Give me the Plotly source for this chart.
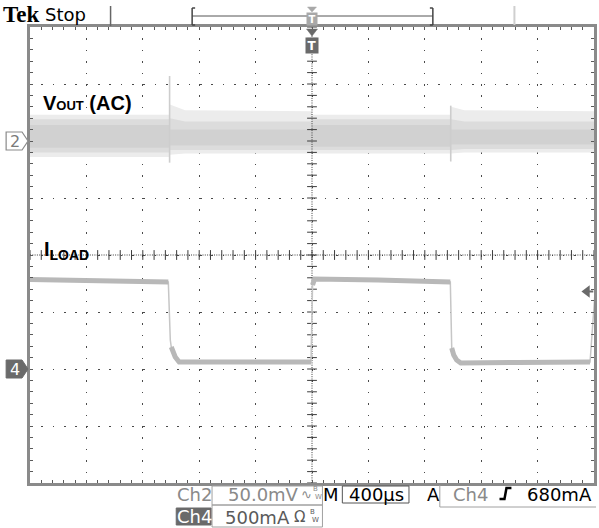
import numpy as np
import plotly.graph_objects as go

# ---- screen geometry (pixels) ----
W, H = 599, 528
L, R, T, B = 30, 597, 27, 483          # graticule edges

# ---- scope settings ----
CH2_MV_DIV = 50.0                        # Ch2 volts/div (mV)
CH4_MA_DIV = 500.0                       # Ch4 amps/div (mA)
TIME_DIV_US = 400.0                      # M 400 µs
TRIG_LEVEL_MA = 680                      # A Ch4 680 mA
CH2_POS_DIV = 2.0                        # Ch2 ground, divisions above centre
CH4_POS_DIV = -2.0                       # Ch4 ground, divisions below centre

# ---- ILOAD waveform (time µs, current mA) ----
load_t = [-2000, -1506, -1019, -1005, -998, -970, -942, -589, -95, -7, 4, 18,
          469, 970, 981, 991, 1005, 1026, 1055, 1457, 1958, 1972, 2014]
load_ma = [785, 776, 763, 254, 193, 105, 61, 57, 61, 61, 737, 789,
           781, 763, 763, 184, 123, 79, 53, 57, 61, 61, 789]

# ---- VOUT (AC) noise envelope (time µs, mV): haze, body and dense core ----
vout_t       = [-2000, -1012, -1008, -900, -2, 2, 983, 987, 1080, 2000]
vout_haze_hi = [23, 23, 32, 27, 26, 23, 23, 30, 27, 26]
vout_haze_lo = [-14, -14, -12, -11, -11, -11, -11, -11, -10, -10]
vout_body_hi = [19, 19, 20, 17, 17, 19, 19, 19, 17, 17]
vout_body_lo = [-10, -10, -8, -8, -8, -8, -8, -8, -7, -7]
vout_core_hi = [14, 14, 10, 10, 10, 14, 14, 10, 10, 10]
vout_core_lo = [-6, -6, -4, -4, -4, -5, -5, -3, -3, -3]

# ---- VOUT transient spikes at the load steps ----
spike_t  = [-1010, 984]
spike_hi = [57, 31]
spike_lo = [-19, -18]

# axis ranges from the channel settings
x_range = [-5 * TIME_DIV_US, 5 * TIME_DIV_US]
y2_range = [(-4 - CH2_POS_DIV) * CH2_MV_DIV, (4 - CH2_POS_DIV) * CH2_MV_DIV]
y4_range = [(-4 - CH4_POS_DIV) * CH4_MA_DIV, (4 - CH4_POS_DIV) * CH4_MA_DIV]
centre_mv = -CH2_POS_DIV * CH2_MV_DIV
US_PER_PX = 10 * TIME_DIV_US / (R - L)


def px(x):
    return (x - L) / (R - L)


def py(y):
    return (B - y) / (B - T)


SCOPE_FONT = "DejaVu Sans"
fig = go.Figure()


def band(lo, hi, colour):
    fig.add_trace(go.Scatter(x=vout_t, y=lo, mode="lines", line=dict(width=0),
                             hoverinfo="skip", showlegend=False))
    fig.add_trace(go.Scatter(x=vout_t, y=hi, mode="lines", line=dict(width=0),
                             fill="tonexty", fillcolor=colour, hoverinfo="skip", showlegend=False))


# VOUT noise band, light outside to dense inside
band(vout_haze_lo, vout_haze_hi, "#ececec")
band(vout_body_lo, vout_body_hi, "#dcdcdc")
band(vout_core_lo, vout_core_hi, "#d1d1d1")

# VOUT spikes
sx, sy = [], []
for t, hi, lo in zip(spike_t, spike_hi, spike_lo):
    sx += [t, t, None]
    sy += [hi, lo, None]
fig.add_trace(go.Scatter(x=sx, y=sy, mode="lines", line=dict(color="#cdcdcd", width=1.6),
                         hoverinfo="skip", showlegend=False))

# ILOAD: thin trace everywhere, thick persistence on the flat parts
fig.add_trace(go.Scatter(x=load_t, y=load_ma, yaxis="y2", mode="lines",
                         line=dict(color="#c6c6c6", width=1.5), hoverinfo="skip", showlegend=False))
thick_t, thick_y = [load_t[0]], [load_ma[0]]
for i in range(1, len(load_t)):
    slope = abs(load_ma[i] - load_ma[i - 1]) / (load_t[i] - load_t[i - 1])
    if slope > 5:
        thick_t.append(None)
        thick_y.append(None)
    thick_t.append(load_t[i])
    thick_y.append(load_ma[i])
fig.add_trace(go.Scatter(x=thick_t, y=thick_y, yaxis="y2", mode="lines",
                         line=dict(color="#b8b8b8", width=5), hoverinfo="skip", showlegend=False))

# centre cross of the graticule
dot_col = "#3c3c3c"
fig.add_trace(go.Scatter(x=x_range, y=[centre_mv, centre_mv], mode="lines",
                         line=dict(color=dot_col, width=1, dash="1px,1.3px"),
                         hoverinfo="skip", showlegend=False))
fig.add_trace(go.Scatter(x=[0, 0], y=y2_range, mode="lines",
                         line=dict(color=dot_col, width=1, dash="1px,1.3px"),
                         hoverinfo="skip", showlegend=False))
tx = np.arange(x_range[0], x_range[1] + 1, TIME_DIV_US / 5)
fig.add_trace(go.Scatter(x=tx, y=[centre_mv] * len(tx), mode="markers",
                         marker=dict(symbol="line-ns", size=7, line=dict(width=1, color=dot_col)),
                         hoverinfo="skip", showlegend=False))
ty = np.arange(y2_range[0], y2_range[1] + 1, CH2_MV_DIV / 5)
fig.add_trace(go.Scatter(x=[0] * len(ty), y=ty, mode="markers",
                         marker=dict(symbol="line-ew", size=7, line=dict(width=1, color=dot_col)),
                         hoverinfo="skip", showlegend=False))

# trigger level pointer on the right edge
fig.add_trace(go.Scatter(x=[1950, 1995], y=[TRIG_LEVEL_MA, TRIG_LEVEL_MA], yaxis="y2", mode="lines",
                         line=dict(color="#6a6a6a", width=2), hoverinfo="skip", showlegend=False))
fig.add_trace(go.Scatter(x=[1950], y=[TRIG_LEVEL_MA], yaxis="y2", mode="markers",
                         marker=dict(symbol="triangle-left", size=11, color="#6a6a6a"),
                         hoverinfo="skip", showlegend=False))

grid_kw = dict(showgrid=True, gridcolor="#4a4a4a", gridwidth=1.4, zeroline=False,
               showticklabels=False, showline=True, linecolor="#8a8a8a", linewidth=3,
               mirror="allticks", ticks="inside", ticklen=3, tickcolor="#5a5a5a", tickwidth=1)

fig.update_layout(
    width=W, height=H, autosize=False,
    margin=dict(l=L, r=W - R, t=T, b=H - B),
    paper_bgcolor="white", plot_bgcolor="white",
    showlegend=False,
    xaxis=dict(range=x_range, dtick=TIME_DIV_US, tick0=0, griddash="1.5px,9.9px",
               minor=dict(dtick=TIME_DIV_US / 5, ticks="inside", ticklen=3, tickcolor="#5a5a5a",
                          showgrid=False),
               **grid_kw),
    yaxis=dict(range=y2_range, dtick=CH2_MV_DIV, tick0=0, griddash="1.5px,9.84px",
               minor=dict(dtick=CH2_MV_DIV / 5, ticks="inside", ticklen=3, tickcolor="#5a5a5a",
                          showgrid=False),
               **grid_kw),
    yaxis2=dict(range=y4_range, overlaying="y", visible=False),
)

shapes = []
ann = []


def text(x, y, s, size=18, color="black", family=SCOPE_FONT, xanchor="center", **kw):
    ann.append(dict(x=px(x), y=py(y), xref="paper", yref="paper", text=s, showarrow=False,
                    xanchor=xanchor, yanchor="middle",
                    font=dict(size=size, color=color, family=family), **kw))


def line(x0, y0, x1, y1, color="#555", width=1):
    shapes.append(dict(type="line", xref="paper", yref="paper", x0=px(x0), y0=py(y0),
                       x1=px(x1), y1=py(y1), line=dict(color=color, width=width)))


def rect(x0, y0, x1, y1, color="#999", fill=None, width=1):
    shapes.append(dict(type="rect", xref="paper", yref="paper", x0=px(x0), y0=py(y0),
                       x1=px(x1), y1=py(y1), line=dict(color=color, width=width),
                       fillcolor=fill or "rgba(0,0,0,0)"))


def down_triangle(y_top, y_tip, half_px, colour):
    # small pointer on the trigger position (time 0)
    h = half_px * US_PER_PX
    shapes.append(dict(type="path", xref="x", yref="paper",
                       path=f"M {-h},{py(y_top)} L {h},{py(y_top)} L 0,{py(y_tip)} Z",
                       line=dict(color=colour, width=0.5), fillcolor=colour))


# ---- header ----
text(1, 14, "<b>Tek</b>", size=23, family="Liberation Serif", xanchor="left")
text(43, 14, "Stop", size=18, xanchor="left")
line(111, 6, 111, 26, color="#666", width=1.5)
line(193, 16, 435, 16, color="#555", width=1)
line(193, 8, 193, 25, color="#444", width=1.5)
line(193, 8, 196, 8, color="#444", width=1.5)
line(193, 25, 196, 25, color="#444", width=1.5)
line(435, 8, 435, 25, color="#444", width=1.5)
line(432, 8, 435, 8, color="#444", width=1.5)
line(432, 25, 435, 25, color="#444", width=1.5)
line(517, 6, 517, 25, color="#cfcfcf", width=2)
down_triangle(7, 12, 4.5, "#a8a8a8")
ann.append(dict(x=0, y=py(19), xref="x", yref="paper", text="<b>T</b>", showarrow=False,
                xanchor="center", font=dict(size=10, color="white", family=SCOPE_FONT),
                bgcolor="#a8a8a8", borderpad=0, width=10, height=12, yanchor="middle"))

# trigger position marker under the top edge
down_triangle(29, 36, 5.5, "#6a6a6a")
ann.append(dict(x=0, y=py(45), xref="x", yref="paper", text="<b>T</b>", showarrow=False,
                xanchor="center", font=dict(size=12, color="white", family=SCOPE_FONT),
                bgcolor="#6a6a6a", borderpad=0, width=12, height=15, yanchor="middle"))

# ---- channel ground markers ----
mv9 = 9 / (B - T) * 8 * CH2_MV_DIV
ma9 = 9 / (B - T) * 8 * CH4_MA_DIV
shapes.append(dict(type="path", xref="paper", yref="y",
                   path=f"M {px(6)},{mv9} L {px(22)},{mv9} L {px(28)},0 L {px(22)},{-mv9} "
                        f"L {px(6)},{-mv9} Z",
                   line=dict(color="#8a8a8a", width=1.2), fillcolor="white"))
ann.append(dict(x=px(14.5), y=0, xref="paper", yref="y", text="2", showarrow=False,
                xanchor="center", font=dict(size=16, color="#7a7a7a", family=SCOPE_FONT),
                yanchor="middle"))
shapes.append(dict(type="path", xref="paper", yref="y2",
                   path=f"M {px(6)},{ma9} L {px(22)},{ma9} L {px(28)},0 L {px(22)},{-ma9} "
                        f"L {px(6)},{-ma9} Z",
                   line=dict(color="#6a6a6a", width=1), fillcolor="#6a6a6a"))
ann.append(dict(x=px(14.5), y=0, xref="paper", yref="y2", text="4", showarrow=False,
                xanchor="center", font=dict(size=16, color="white", family=SCOPE_FONT),
                yanchor="middle"))

# ---- trace labels ----
text(41, 103, "<b>V<span style='font-size:13px'>OUT</span> (AC)</b>", size=20,
     family="Liberation Sans", xanchor="left")
text(42, 250, "<b>I<sub>LOAD</sub></b>", size=20, family="Liberation Sans", xanchor="left")

# ---- readout panel ----
rect(213, 486, 324, 505, color="#a0a0a0")
rect(213, 505, 324, 527, color="#a0a0a0")
rect(344, 486, 411, 503, color="#555")
line(442, 485, 442, 507, color="#a0a0a0")
line(442, 507, 599, 507, color="#a0a0a0")
rect(177, 508, 212, 525, color="#6a6a6a", fill="#6a6a6a")

text(195, 494, "Ch2", color="#8a8a8a")
text(302, 494, "50.0mV", color="#8a8a8a", xanchor="right")
text(308, 494, "∿", size=13, color="#8a8a8a")
text(317, 489, "B", size=7, color="#8a8a8a")
text(320, 497, "W", size=7, color="#8a8a8a")
text(333, 494, "M")
text(378, 494, "400µs")
text(436, 494, "A")
text(473, 494, "Ch4", color="#8a8a8a")
shapes.append(dict(type="path", xref="paper", yref="paper",
                   path=f"M {px(502)},{py(499)} L {px(507)},{py(499)} L {px(509)},{py(488)} "
                        f"L {px(514)},{py(488)}",
                   line=dict(color="black", width=2.5)))
text(597, 494, "680mA", xanchor="right")
text(195, 516, "Ch4", color="white")
text(293, 517, "500mA", color="#5a5a5a", xanchor="right")
text(301, 517, "Ω", size=15, color="#5a5a5a")
text(314, 512, "B", size=7, color="#5a5a5a")
text(317, 520, "W", size=7, color="#5a5a5a")

fig.update_layout(shapes=shapes, annotations=ann)
fig.write_html("out.html")
